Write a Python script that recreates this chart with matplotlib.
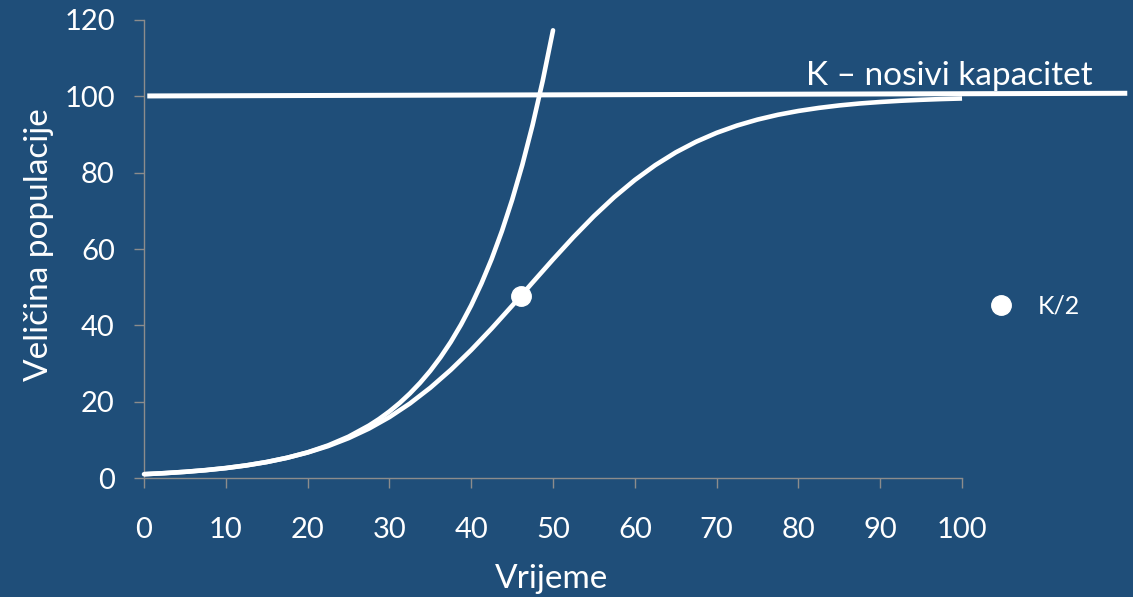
import matplotlib
matplotlib.use("Agg")
import matplotlib.pyplot as plt
from matplotlib.lines import Line2D

plt.rcParams["font.family"] = ["Lato", "DejaVu Sans"]

BG = "#1F4E79"
AXIS = "#8C8C8C"

# vrijeme (x) and velicina populacije (y)
time_exp = [0, 2.5, 5, 7.5, 10, 12.5, 15, 17.5, 20, 22.5, 25, 27.5, 28.75,
            30, 31.25, 32.5, 33.75, 35, 36.25, 37.5, 38.75, 40, 41.25, 42.5,
            43.75, 45, 46.25, 47.5, 48.75, 50]
pop_exp = [1.00, 1.27, 1.61, 2.04, 2.59, 3.29, 4.18, 5.30, 6.73, 8.54, 10.83,
           13.75, 15.48, 17.44, 19.65, 22.14, 24.94, 28.09, 31.65, 35.65,
           40.17, 45.24, 50.97, 57.40, 64.67, 72.86, 82.07, 92.47, 104.16, 117.3]

time_log = [0, 2.5, 5, 7.5, 10, 12.5, 15, 17.5, 20, 22.5, 25, 27.5, 30,
            32.5, 35, 37.5, 40, 42.5, 45, 47.5, 50, 52.5, 55, 57.5, 60,
            62.5, 65, 67.5, 70, 72.5, 75, 77.5, 80, 82.5, 85, 87.5, 90,
            92.5, 95, 97.5, 100]
pop_log = [1.00, 1.28, 1.63, 2.07, 2.62, 3.32, 4.20, 5.31, 6.68, 8.36, 10.44,
           12.95, 15.96, 19.52, 23.65, 28.33, 33.54, 39.18, 45.13, 51.22, 57.27,
           63.12, 68.61, 73.62, 78.08, 81.97, 85.31, 88.11, 90.44, 92.35, 93.91,
           95.17, 96.17, 96.97, 97.62, 98.13, 98.52, 98.84, 99.09, 99.29, 99.44]

k_time = [0.4, 120.2]
k_pop = [100.1, 100.8]

half_k_time = [46.1]
half_k_pop = [47.7]

x_ticks = [0, 10, 20, 30, 40, 50, 60, 70, 80, 90, 100]
y_ticks = [0, 20, 40, 60, 80, 100, 120]

fig = plt.figure(figsize=(11.33, 5.97), dpi=100, facecolor=BG)
ax = fig.add_axes([0.1271, 0.1993, 0.722, 0.7672], facecolor=BG)

ax.plot(k_time, k_pop, color="white", linewidth=3.6, solid_capstyle="butt",
        clip_on=False, zorder=3)
ax.plot(time_exp, pop_exp, color="white", linewidth=3.3, solid_capstyle="round",
        solid_joinstyle="round", clip_on=False, zorder=4)
ax.plot(time_log, pop_log, color="white", linewidth=3.3, solid_capstyle="butt",
        solid_joinstyle="round", clip_on=False, zorder=4)
ax.plot(half_k_time, half_k_pop, "o", color="white", markersize=14, zorder=5,
        clip_on=False)

ax.text(98.4, 103.0, "K \u2013 nosivi kapacitet", color="white", fontsize=24,
        ha="center", va="baseline")

ax.set_xlim(0, 100)
ax.set_ylim(0, 120)
ax.set_xticks(x_ticks)
ax.set_yticks(y_ticks)

for side in ["top", "right"]:
    ax.spines[side].set_visible(False)
for side in ["left", "bottom"]:
    ax.spines[side].set_color(AXIS)
    ax.spines[side].set_linewidth(1.0)

ax.tick_params(axis="x", direction="out", length=7, width=1, color=AXIS,
               labelcolor="white", labelsize=21, pad=21)
ax.tick_params(axis="y", direction="out", length=7, width=1, color=AXIS,
               labelcolor="white", labelsize=21, pad=14)

ax.set_xlabel("Vrijeme", color="white", fontsize=24)
ax.set_ylabel("Veli\u010dina populacije", color="white", fontsize=24)
ax.xaxis.set_label_coords(0.4976, -0.188)
ax.yaxis.set_label_coords(-0.110, 0.509)

handle = Line2D([], [], marker="o", linestyle="none", color="white",
                markersize=14)
leg = ax.legend([handle], ["K/2"], loc="center left",
                bbox_to_anchor=(0.8725, 1 - 306 / 597),
                bbox_transform=fig.transFigure, frameon=False, fontsize=18,
                handlelength=1.0, handletextpad=0.95, borderpad=0,
                borderaxespad=0)
for t in leg.get_texts():
    t.set_color("white")

fig.savefig("out.png", dpi=100, facecolor=BG)
